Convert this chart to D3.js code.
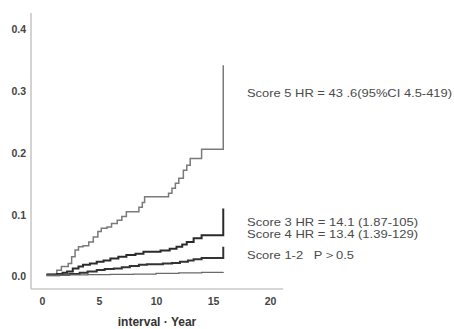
<!DOCTYPE html>
<html>
<head>
<meta charset="utf-8">
<script src="https://cdn.jsdelivr.net/npm/d3@7"></script>
<style>
  body { margin: 0; background: #fff; }
  svg { display: block; font-family: "Liberation Sans", Arial, sans-serif; }
</style>
</head>
<body>
<div id="chart"></div>
<script>
// cumulative incidence (step curves)
var score5T = [0.4, 1.3, 1.7, 2.3, 2.6, 2.9, 3.2, 3.6, 4.1, 4.5, 4.9, 5.2, 5.7, 6.1, 6.6, 7.0, 7.4, 8.5, 8.8, 9.0, 11.1, 11.4, 11.7, 12.0, 12.4, 12.7, 13.0, 14.0, 15.9, 15.9];
var score5V = [0.004, 0.010, 0.016, 0.021, 0.032, 0.043, 0.048, 0.050, 0.056, 0.064, 0.073, 0.078, 0.080, 0.086, 0.091, 0.097, 0.105, 0.112, 0.120, 0.129, 0.135, 0.143, 0.151, 0.159, 0.172, 0.180, 0.191, 0.206, 0.206, 0.342];

var score3T = [0.4, 1.3, 1.8, 2.2, 2.7, 3.2, 3.6, 4.2, 4.8, 5.4, 6.0, 6.7, 7.4, 8.2, 8.9, 10.4, 11.2, 11.8, 12.3, 12.7, 13.3, 14.0, 15.9, 15.9];
var score3V = [0.003, 0.004, 0.006, 0.008, 0.013, 0.016, 0.019, 0.021, 0.024, 0.026, 0.029, 0.032, 0.035, 0.037, 0.040, 0.042, 0.045, 0.048, 0.052, 0.056, 0.062, 0.067, 0.067, 0.110];

var score4T = [0.4, 1.5, 2.4, 3.3, 4.0, 4.8, 5.5, 6.3, 7.0, 7.7, 8.5, 9.2, 10.6, 11.4, 12.1, 12.8, 13.3, 14.0, 15.9, 15.9];
var score4V = [0.002, 0.003, 0.004, 0.006, 0.008, 0.0105, 0.012, 0.013, 0.015, 0.017, 0.019, 0.020, 0.021, 0.022, 0.024, 0.026, 0.028, 0.030, 0.030, 0.048];

var score12T = [0.4, 2.0, 4.0, 6.0, 8.0, 10.0, 12.0, 14.0, 15.9];
var score12V = [0.002, 0.0025, 0.003, 0.0035, 0.004, 0.005, 0.0058, 0.0066, 0.0068];

var xTicks = [0, 5, 10, 15, 20];
var yTicks = [0.0, 0.1, 0.2, 0.3, 0.4];
var xTitle = "interval \u00b7 Year";

var seriesNames = ["Score 5", "Score 3", "Score 4", "Score 1-2"];
var seriesLabels = [
  "Score 5 HR = 43 .6(95%CI 4.5-419)",
  "Score 3 HR = 14.1 (1.87-105)",
  "Score 4 HR = 13.4 (1.39-129)",
  "Score 1-2   P\uff1e0.5"
];

var width = 454, height = 329;
var x = d3.scaleLinear().domain([0, 20]).range([42, 270]);
var y = d3.scaleLinear().domain([0, 0.4]).range([276.5, 29.5]);

var svg = d3.select("#chart").append("svg")
  .attr("width", width)
  .attr("height", height);

// frame (axis lines)
var frameX = 31, frameTop = 13, frameBottom = 289, frameRight = 283;
svg.append("line")
  .attr("x1", frameX).attr("x2", frameX)
  .attr("y1", frameTop).attr("y2", frameBottom)
  .attr("stroke", "#c8c8c8").attr("stroke-width", 1.6);
svg.append("line")
  .attr("x1", frameX).attr("x2", frameRight)
  .attr("y1", frameBottom).attr("y2", frameBottom)
  .attr("stroke", "#c8c8c8").attr("stroke-width", 1.6);

var gy = svg.append("g")
  .attr("transform", "translate(" + frameX + ",0)")
  .call(d3.axisLeft(y).tickValues(yTicks).tickSize(0).tickPadding(5).tickFormat(d3.format(".1f")));
var gx = svg.append("g")
  .attr("transform", "translate(0," + frameBottom + ")")
  .call(d3.axisBottom(x).tickValues(xTicks).tickSize(0).tickPadding(9).tickFormat(d3.format("d")));
[gx, gy].forEach(function(g) {
  g.select(".domain").remove();
  g.selectAll("text")
    .attr("fill", "#444")
    .style("font-size", "10.5px")
    .style("font-weight", "bold");
});

svg.append("text")
  .attr("x", 157).attr("y", 326)
  .attr("text-anchor", "middle")
  .attr("fill", "#333")
  .style("font-size", "12px")
  .style("font-weight", "bold")
  .text(xTitle);

// curves
var line = d3.line()
  .x(function(d) { return x(d[0]); })
  .y(function(d) { return y(d[1]); })
  .curve(d3.curveStepAfter);

var seriesT = [score5T, score3T, score4T, score12T];
var seriesV = [score5V, score3V, score4V, score12V];
var seriesStroke = ["#7a7a7a", "#2b2b2b", "#333333", "#6a6a6a"];
var seriesWidth = [1.5, 2, 2, 1.3];

for (var a = 0; a < seriesNames.length; a++) {
  var pts = seriesT[a].map(function(t, i) { return [t, seriesV[a][i]]; });
  svg.append("path")
    .datum(pts)
    .attr("d", line)
    .attr("id", seriesNames[a])
    .attr("fill", "none")
    .attr("stroke", seriesStroke[a])
    .attr("stroke-width", seriesWidth[a]);
}

// right-hand annotations (widths matched to the reference)
var labelX = 247;
var labelY = [97, 225.5, 237.5, 259];
var labelW = [205, 171, 171, 107];
svg.selectAll("text.note")
  .data(seriesLabels)
  .enter().append("text")
  .attr("class", "note")
  .attr("x", labelX)
  .attr("y", function(d, i) { return labelY[i]; })
  .attr("textLength", function(d, i) { return labelW[i]; })
  .attr("lengthAdjust", "spacingAndGlyphs")
  .attr("fill", "#4a4a4a")
  .style("font-size", "11.5px")
  .style("white-space", "pre")
  .text(function(d) { return d; });
</script>
</body>
</html>
